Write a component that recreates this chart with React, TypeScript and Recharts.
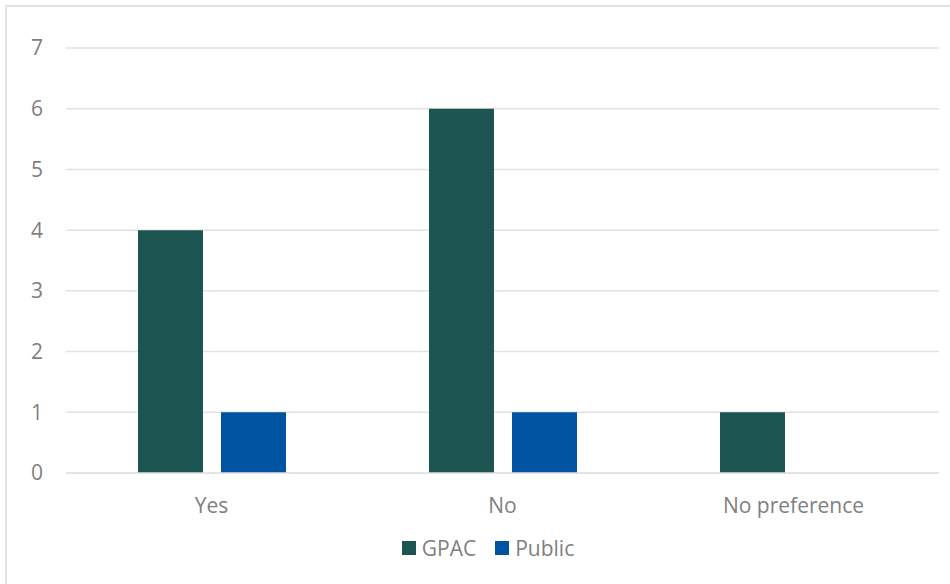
import { Bar, BarChart, CartesianGrid, XAxis, YAxis } from "recharts";

const categories = ["Yes", "No", "No preference"];
const gpacValues = [4, 6, 1];
const publicValues = [1, 1, 0];
const yTicks = [0, 1, 2, 3, 4, 5, 6, 7];

const seriesList = [
  { key: "GPAC", color: "#1b5451" },
  { key: "Public", color: "#0053a0" },
];

const data = categories.map((c, i) => ({ name: c, GPAC: gpacValues[i], Public: publicValues[i] }));

const FONT = "'Open Sans', sans-serif";
const TEXT = "#7f7f7f";

function LegendBox() {
  return (
    <div
      style={{
        position: "absolute",
        left: 13,
        top: 534,
        width: 950,
        display: "flex",
        justifyContent: "center",
        alignItems: "center",
        gap: 19,
        fontFamily: FONT,
        fontSize: 21,
        color: TEXT,
      }}
    >
      {seriesList.map((s) => (
        <div key={s.key} style={{ display: "flex", alignItems: "center", gap: 6 }}>
          <span style={{ display: "inline-block", width: 14, height: 14, background: s.color }} />
          <span>{s.key}</span>
        </div>
      ))}
    </div>
  );
}

export default function App() {
  return (
    <div style={{ position: "absolute", left: 0, top: 0, width: 950, height: 584, overflow: "hidden", background: "#fff" }}>
      <div
        style={{
          position: "absolute",
          left: 5,
          top: 5,
          width: 960,
          height: 600,
          border: "2px solid #e2e2e2",
          boxSizing: "border-box",
        }}
      />
      <div style={{ position: "absolute", left: 0, top: 0 }}>
        <BarChart width={950} height={584} data={data} margin={{ top: 48, right: 11, left: 0, bottom: 0 }} barSize={65} barGap={18}>
          <CartesianGrid vertical={false} stroke="#e2e2e2" strokeWidth={1.5} />
          <XAxis
            dataKey="name"
            axisLine={{ stroke: "#e2e2e2", strokeWidth: 1.5 }}
            tickLine={false}
            tickSize={0}
            tickMargin={25}
            height={111}
            tick={{ fontSize: 21, fill: TEXT, fontFamily: FONT }}
          />
          <YAxis
            domain={[0, 7]}
            ticks={yTicks}
            axisLine={false}
            tickLine={false}
            tickSize={0}
            tickMargin={23}
            width={66}
            tick={{ fontSize: 21, fill: TEXT, fontFamily: FONT }}
          />
          {seriesList.map((s) => (
            <Bar key={s.key} dataKey={s.key} fill={s.color} isAnimationActive={false} />
          ))}
        </BarChart>
      </div>
      <LegendBox />
    </div>
  );
}
